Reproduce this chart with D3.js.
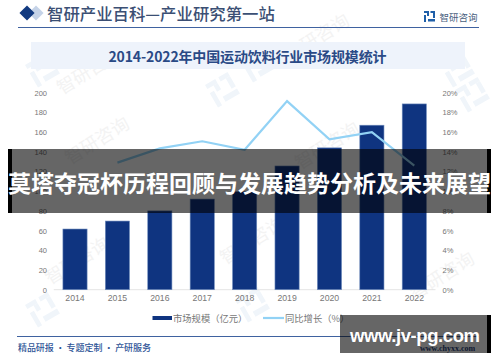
<!DOCTYPE html>
<html>
<head>
<meta charset="utf-8">
<script src="https://cdn.jsdelivr.net/npm/d3@7"></script>
<style>
  html, body { margin: 0; padding: 0; background: #fff; }
  svg { display: block; }
  text { font-family: "Liberation Sans", "Noto Sans CJK SC", sans-serif; }
  .cjk { font-family: "Noto Sans CJK SC", sans-serif; }
  .axis text { fill: #777; }
  .axis path, .axis line { stroke: none; }
</style>
</head>
<body>
<div id="chart"></div>
<script>
"use strict"

const years = ["2014", "2015", "2016", "2017", "2018", "2019", "2020", "2021", "2022"];
const marketSize = [61.6, 69.7, 80, 92, 99.5, 125.6, 144, 167, 188.6];
const growthYears = ["2015", "2016", "2017", "2018", "2019", "2020", "2021", "2022"];
const growth = [12.9, 14.35, 15.07, 14.2, 19.15, 15.27, 16.0, 12.6];
const leftTicks = [0, 20, 40, 60, 80, 100, 120, 140, 160, 180, 200];
const rightTicks = [0, 2, 4, 6, 8, 10, 12, 14, 16, 18, 20];
const legendLabels = ["市场规模（亿元）", "同比增长（%）"];
const watermarks = [[62, 95], [70, 165], [290, 62], [50, 285], [300, 170], [225, 265], [415, 300]];
const logoMarks = [[25, 65], [240, 60], [440, 65], [25, 305], [235, 300], [205, 85], [455, 90]];

const svg = d3.select("#chart").append("svg")
    .attr("width", 500)
    .attr("height", 362);

const x = d3.scaleBand().domain(years).range([53.8, 435.5]).paddingInner(0.43).paddingOuter(0.215);
const yLeft = d3.scaleLinear().domain([0, 200]).range([289.7, 92.7]);
const yRight = d3.scaleLinear().domain([0, 20]).range([289.7, 92.7]);

drawWatermarks();
drawHeader();
drawAxes();
drawBars();
drawLine();
drawLegend();
drawFooter();
drawBanners();

function drawLogo(g, size, color) {
    // the little square company mark
    const u = size / 11;
    g.append("rect").attr("x", 0).attr("y", 0).attr("width", 5 * u).attr("height", 2 * u).style("fill", color);
    g.append("rect").attr("x", 3 * u).attr("y", 2 * u).attr("width", 2 * u).attr("height", 3 * u).style("fill", color);
    g.append("rect").attr("x", 0).attr("y", 4 * u).attr("width", 2 * u).attr("height", 7 * u).style("fill", color);
    g.append("rect").attr("x", 6.5 * u).attr("y", 0).attr("width", 4.5 * u).attr("height", 2 * u).style("fill", color);
    g.append("rect").attr("x", 9 * u).attr("y", 2 * u).attr("width", 2 * u).attr("height", 5 * u).style("fill", color);
    g.append("rect").attr("x", 4 * u).attr("y", 8 * u).attr("width", 7 * u).attr("height", 2.5 * u).style("fill", color);
}

function drawWatermarks() {
    watermarks.forEach(function(d) {
        svg.append("text")
            .attr("class", "cjk")
            .attr("transform", "translate(" + d[0] + "," + d[1] + ") rotate(-32)")
            .style("font-size", "18px")
            .style("fill", "#f3f3f3")
            .text("智研咨询");
    });
    logoMarks.forEach(function(d) {
        let g = svg.append("g").attr("transform", "translate(" + d[0] + "," + d[1] + ") rotate(-30)");
        drawLogo(g, 26, "#f0f5fa");
    });
}

function drawHeader() {
    const diamond = d3.symbol().type(d3.symbolSquare).size(115);
    svg.append("path").attr("d", diamond())
        .attr("transform", "translate(36,13) rotate(45)")
        .style("fill", "#c5d3e8");
    svg.append("path").attr("d", diamond())
        .attr("transform", "translate(27,13) rotate(45)")
        .style("fill", "#123a80");

    svg.append("text")
        .attr("class", "cjk")
        .attr("x", 47)
        .attr("y", 20)
        .style("font-size", "16.4px")
        .style("font-weight", "500")
        .style("fill", "#3b4f74")
        .text("智研产业百科—产业研究第一站");

    svg.append("line")
        .attr("x1", 18).attr("y1", 27.5).attr("x2", 479).attr("y2", 27.5)
        .style("stroke", "#3f62a0")
        .style("stroke-width", "1px");

    let logo = svg.append("g").attr("transform", "translate(424,11)");
    drawLogo(logo, 11, "#1f5fa8");
    svg.append("text")
        .attr("class", "cjk")
        .attr("x", 439.5)
        .attr("y", 21)
        .style("font-size", "9.5px")
        .style("fill", "#4a5f80")
        .text("智研咨询");

    svg.append("rect")
        .attr("x", 31).attr("y", 42).attr("width", 434).attr("height", 27)
        .style("fill", "#eef3fb");

    svg.append("text")
        .attr("class", "cjk")
        .attr("x", 247.5)
        .attr("y", 62)
        .attr("textLength", 278)
        .style("font-size", "14px")
        .style("font-weight", "700")
        .style("text-anchor", "middle")
        .style("fill", "#2a4a86")
        .text("2014-2022年中国运动饮料行业市场规模统计");
}

function drawAxes() {
    svg.append("g")
        .attr("class", "axis")
        .attr("transform", "translate(47,0)")
        .call(d3.axisLeft(yLeft).tickValues(leftTicks).tickSize(0).tickPadding(0))
        .selectAll("text").style("font-size", "7.5px");

    svg.append("g")
        .attr("class", "axis")
        .attr("transform", "translate(442.5,0)")
        .call(d3.axisRight(yRight).tickValues(rightTicks).tickSize(0).tickPadding(0).tickFormat(function(d) { return d + "%"; }))
        .selectAll("text").style("font-size", "7.5px");

    let bottom = svg.append("g")
        .attr("class", "axis")
        .attr("transform", "translate(0,289.7)")
        .call(d3.axisBottom(x).tickSize(0).tickPadding(5));
    bottom.selectAll("text").style("font-size", "8.7px");

    svg.append("line")
        .attr("x1", 53.8).attr("y1", 289.7).attr("x2", 435.5).attr("y2", 289.7)
        .style("stroke", "#dcdcdc")
        .style("stroke-width", "0.8px");
}

function drawBars() {
    svg.selectAll(".bar")
        .data(years)
        .enter().append("rect")
        .attr("class", "bar")
        .attr("x", function(d) { return x(d); })
        .attr("y", function(d, i) { return yLeft(marketSize[i]); })
        .attr("width", x.bandwidth())
        .attr("height", function(d, i) { return yLeft(0) - yLeft(marketSize[i]); })
        .style("fill", "#0f3480")
        .style("stroke", "#6f8cbc")
        .style("stroke-width", "0.6px");
}

function drawLine() {
    let lineFunc = d3.line()
        .x(function(d) { return x(d) + x.bandwidth() / 2; })
        .y(function(d, i) { return yRight(growth[i]); });

    svg.append("path")
        .attr("d", lineFunc(growthYears))
        .style("stroke", "#92d2f5")
        .style("stroke-width", "2.2px")
        .style("fill", "none");
}

function drawLegend() {
    svg.append("rect")
        .attr("x", 152.5).attr("y", 316).attr("width", 19.5).attr("height", 4)
        .style("fill", "#0f3480");
    svg.append("text")
        .attr("class", "cjk")
        .attr("x", 173).attr("y", 322)
        .style("font-size", "9.3px")
        .style("fill", "#777")
        .text(legendLabels[0]);

    svg.append("line")
        .attr("x1", 263).attr("y1", 318).attr("x2", 284).attr("y2", 318)
        .style("stroke", "#92d2f5")
        .style("stroke-width", "2.2px");
    svg.append("text")
        .attr("class", "cjk")
        .attr("x", 285).attr("y", 322)
        .style("font-size", "9.3px")
        .style("fill", "#777")
        .text(legendLabels[1]);
}

function drawFooter() {
    svg.append("line")
        .attr("x1", 17).attr("y1", 336.5).attr("x2", 479).attr("y2", 336.5)
        .style("stroke", "#3f62a0")
        .style("stroke-width", "1px");
    svg.append("text")
        .attr("class", "cjk")
        .attr("x", 18).attr("y", 351)
        .attr("textLength", 133)
        .style("font-size", "9px")
        .style("font-weight", "500")
        .style("fill", "#2f5597")
        .text("精品研报 · 专题定制 · 产研服务");
    svg.append("text")
        .attr("x", 420).attr("y", 351)
        .style("font-family", "'Liberation Serif', serif")
        .style("font-size", "8px")
        .style("font-weight", "700")
        .style("fill", "#1f3f7a")
        .text("www.chyxx.com");
}

function drawBanners() {
    svg.append("rect")
        .attr("x", 8).attr("y", 149).attr("width", 483).attr("height", 64)
        .style("fill", "#000")
        .style("opacity", 0.6);
    svg.append("rect").attr("x", 8).attr("y", 149).attr("width", 4).attr("height", 64).style("fill", "#000");
    svg.append("rect").attr("x", 487).attr("y", 149).attr("width", 4).attr("height", 64).style("fill", "#000");
    svg.append("text")
        .attr("class", "cjk")
        .attr("x", 8).attr("y", 192)
        .attr("textLength", 483)
        .style("font-size", "23px")
        .style("font-weight", "700")
        .style("fill", "#fff")
        .text("莫塔夺冠杯历程回顾与发展趋势分析及未来展望");

    svg.append("rect")
        .attr("x", 340).attr("y", 315).attr("width", 151).attr("height", 38)
        .style("fill", "#000")
        .style("opacity", 0.6);
    svg.append("rect").attr("x", 487).attr("y", 315).attr("width", 4).attr("height", 38).style("fill", "#000");
    svg.append("text")
        .attr("x", 350).attr("y", 342)
        .attr("textLength", 130)
        .style("font-family", "'Liberation Sans', sans-serif")
        .style("font-size", "18.5px")
        .style("font-weight", "700")
        .style("fill", "#fff")
        .text("www.jv-pg.com");
}
</script>
</body>
</html>
